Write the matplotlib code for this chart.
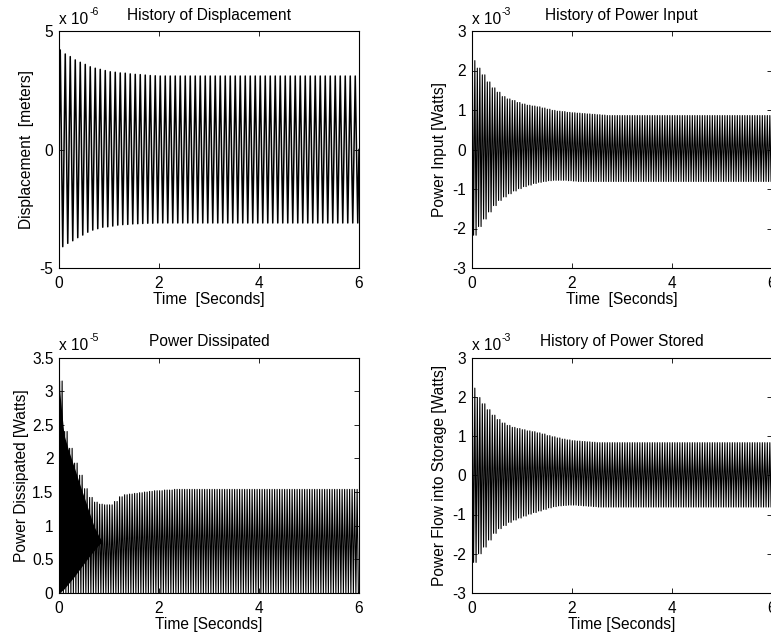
import numpy as np
import matplotlib
matplotlib.use("Agg")
import matplotlib.pyplot as plt
from matplotlib.ticker import FormatStrFormatter

plt.rcParams['font.family'] = ['Liberation Sans', 'DejaVu Sans']
plt.rcParams['axes.unicode_minus'] = False

# ---------------------------------------------------------------
# Simulation record (0 - 6 s).  Amplitudes are listed per 0.1 s
# window during the transient, followed by the steady-state value.
# ---------------------------------------------------------------
T_END = 6.0
ENV_STEP = 0.1          # s, one envelope entry per window
DISP_FREQ = 10.0        # Hz, displacement response
POWER_FREQ = 20.0       # Hz, power terms oscillate at twice that

# Displacement [1e-6 m]
disp_peaks = [4.20, 4.03, 3.92, 3.78, 3.68, 3.59, 3.49, 3.43, 3.38, 3.33,
              3.28, 3.26, 3.23, 3.22, 3.19, 3.17, 3.16, 3.14, 3.12, 3.11]
disp_peak_steady = 3.10
disp_troughs = [-4.10, -3.96, -3.85, -3.72, -3.61, -3.49, -3.40, -3.34, -3.28, -3.26,
                -3.23, -3.19, -3.17, -3.16, -3.14, -3.13, -3.12, -3.11, -3.11, -3.10]
disp_trough_steady = -3.10

# Power input [1e-3 W]
pin_upper = [2.25, 2.06, 1.89, 1.71, 1.56, 1.45, 1.34, 1.28, 1.24, 1.19,
             1.15, 1.12, 1.10, 1.08, 1.05, 1.02, 0.99, 0.97, 0.96, 0.94,
             0.93, 0.92, 0.91, 0.90, 0.89, 0.88, 0.87]
pin_upper_steady = 0.86
pin_lower = [-2.17, -1.95, -1.76, -1.58, -1.42, -1.29, -1.20, -1.12, -1.05, -0.99,
             -0.94, -0.90, -0.86, -0.83, -0.81, -0.79, -0.78, -0.78, -0.78, -0.79,
             -0.80]
pin_lower_steady = -0.81

# Power dissipated [1e-5 W]
pdiss_upper = [3.15, 2.40, 2.15, 1.93, 1.75, 1.55, 1.42, 1.35, 1.32, 1.31,
               1.31, 1.36, 1.43, 1.46, 1.47, 1.48, 1.49, 1.50, 1.51, 1.52,
               1.52, 1.53, 1.53, 1.54, 1.54]
pdiss_upper_steady = 1.54
pdiss_lower_steady = 0.0
# dense start-up band of the dissipated power
wedge_t = [0.0, 0.1, 0.2, 0.3, 0.4, 0.5, 0.6, 0.7, 0.8, 0.87]
wedge_top = [3.10, 2.35, 2.10, 1.88, 1.65, 1.43, 1.21, 0.99, 0.84, 0.76]
wedge_bottom = [0.0, 0.06, 0.15, 0.24, 0.34, 0.44, 0.54, 0.63, 0.72, 0.76]

# Power flow into storage [1e-3 W]
pst_upper = [2.22, 1.98, 1.82, 1.67, 1.53, 1.42, 1.33, 1.27, 1.22, 1.19,
             1.16, 1.13, 1.11, 1.08, 1.05, 1.01, 0.98, 0.95, 0.92, 0.90,
             0.88, 0.87, 0.86, 0.85, 0.84]
pst_upper_steady = 0.83
pst_lower = [-2.22, -2.00, -1.83, -1.65, -1.48, -1.36, -1.28, -1.20, -1.14, -1.09,
             -1.04, -0.99, -0.95, -0.91, -0.87, -0.83, -0.80, -0.78, -0.77, -0.76,
             -0.76, -0.77, -0.78, -0.79, -0.80]
pst_lower_steady = -0.81

x_ticks = [0, 2, 4, 6]

FS = 11.2


def full_envelope(values, steady):
    n_bins = int(round(T_END / ENV_STEP))
    values = np.atleast_1d(np.asarray(values, dtype=float))
    if values.size == 0:
        return np.full(n_bins, steady)
    return np.concatenate([values, np.full(n_bins - values.size, steady)])


def trace(upper, upper_steady, lower, lower_steady, freq, start=0.0):
    """Trace through the successive maxima and minima of each cycle."""
    per_bin = int(round(freq * ENV_STEP))
    hi = np.repeat(full_envelope(upper, upper_steady), per_bin)
    lo = np.repeat(full_envelope(lower, lower_steady), per_bin)
    period = 1.0 / freq
    k = np.arange(hi.size)
    t = np.empty(2 * hi.size)
    y = np.empty(2 * hi.size)
    t[0::2] = (k + 0.25) * period
    t[1::2] = (k + 0.75) * period
    y[0::2] = hi
    y[1::2] = lo
    return np.r_[0.0, t, T_END], np.r_[start, y, start]


W, H = 771, 638
fig = plt.figure(figsize=(W / 100, H / 100), dpi=100)

col_x = [59 / W, 471.7 / W]
ax_w = 300 / W
row_y = [1 - 268 / H, 1 - 593 / H]
row_h = [237 / H, 235.5 / H]

exponent_labels = []


def style(ax, ylim, yticks, exp, title, xlabel, ylabel, ypad):
    ax.set_xlim(0, T_END)
    ax.set_ylim(*ylim)
    ax.set_xticks(x_ticks)
    ax.set_yticks(yticks)
    ax.yaxis.set_major_formatter(FormatStrFormatter('%g'))
    ax.tick_params(direction='in', top=True, right=True, length=3.5,
                   width=0.6, labelsize=FS)
    ax.tick_params(axis='x', pad=5.5)
    ax.tick_params(axis='y', pad=4)
    for s in ax.spines.values():
        s.set_linewidth(0.8)
    ax.set_title(title, fontsize=FS, pad=8)
    ax.set_xlabel(xlabel, fontsize=FS, labelpad=1)
    ax.set_ylabel(ylabel, fontsize=FS, labelpad=ypad)
    base = ax.text(0.0, 1.03, 'x 10', transform=ax.transAxes,
                   ha='left', va='baseline', fontsize=FS)
    exponent_labels.append((base, '%d' % exp))


# Displacement
ax1 = fig.add_axes([col_x[0], row_y[0], ax_w, row_h[0]])
t, y = trace(disp_peaks, disp_peak_steady, disp_troughs, disp_trough_steady, DISP_FREQ)
ax1.plot(t, y, color='k', lw=1.1)
style(ax1, (-5, 5), [-5, 0, 5], -6, 'History of Displacement',
      'Time  [Seconds]', 'Displacement  [meters]', 4)

# Power input
ax2 = fig.add_axes([col_x[1], row_y[0], ax_w, row_h[0]])
t, y = trace(pin_upper, pin_upper_steady, pin_lower, pin_lower_steady, POWER_FREQ)
ax2.plot(t, y, color='k', lw=0.8)
style(ax2, (-3, 3), [-3, -2, -1, 0, 1, 2, 3], -3, 'History of Power Input',
      'Time  [Seconds]', 'Power Input [Watts]', 4)

# Power dissipated
ax3 = fig.add_axes([col_x[0], row_y[1], ax_w, row_h[1]])
t, y = trace(pdiss_upper, pdiss_upper_steady, [], pdiss_lower_steady, POWER_FREQ)
ax3.plot(t, y, color='k', lw=0.8)
ax3.fill_between(wedge_t, wedge_bottom, wedge_top, color='k', lw=0)
style(ax3, (0, 3.5), [0, 0.5, 1, 1.5, 2, 2.5, 3, 3.5], -5, 'Power Dissipated',
      'Time [Seconds]', 'Power Dissipated [Watts]', 2)

# Power stored
ax4 = fig.add_axes([col_x[1], row_y[1], ax_w, row_h[1]])
t, y = trace(pst_upper, pst_upper_steady, pst_lower, pst_lower_steady, POWER_FREQ)
ax4.plot(t, y, color='k', lw=0.8)
style(ax4, (-3, 3), [-3, -2, -1, 0, 1, 2, 3], -3, 'History of Power Stored',
      'Time [Seconds]', 'Power Flow into Storage [Watts]', 4)

# Exponent superscripts, placed just after each "x 10"
renderer = fig.canvas.get_renderer()
for base, sup in exponent_labels:
    bb = base.get_window_extent(renderer)
    fig.text((bb.x1 + 1) / W, (bb.y1 - 3) / H, sup, fontsize=FS * 0.68,
             ha='left', va='baseline')

fig.savefig('out.png', dpi=100)
